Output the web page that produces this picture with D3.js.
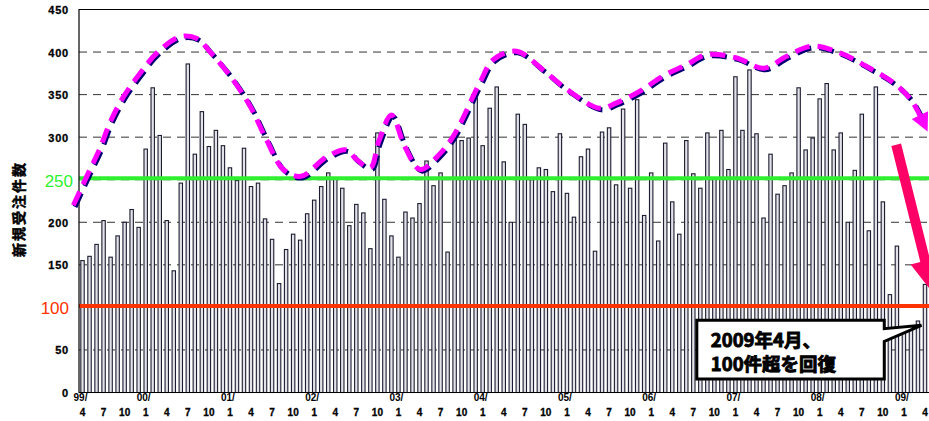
<!DOCTYPE html>
<html>
<head>
<meta charset="utf-8">
<script src="https://cdn.jsdelivr.net/npm/d3@7"></script>
<style>
  body { margin: 0; background: #fff; }
  svg { display: block; }
</style>
</head>
<body>
<div id="chart"></div>
<script>
// monthly new orders, 1999/04 .. 2009/04
const orders = [
  155, 160, 174, 202, 159, 184, 200, 215, 194,            // 99/4 - 99/12
  286, 358, 302, 202, 143, 246, 386, 280, 330, 289, 308, 290, // 00
  264, 249, 287, 242, 246, 204, 180, 128, 168, 186, 179, 210, // 01
  226, 242, 258, 252, 240, 196, 221, 211, 169, 305, 227, 184, // 02
  159, 212, 205, 222, 272, 243, 258, 165, 297, 296, 299, 346, // 03
  290, 334, 359, 271, 200, 327, 315, 250, 264, 262, 236, 304, // 04
  234, 206, 277, 286, 166, 306, 311, 244, 333, 240, 344, 208, // 05
  258, 178, 293, 224, 186, 296, 257, 240, 305, 252, 308, 262, // 06
  371, 308, 379, 304, 205, 280, 233, 243, 258, 358, 285, 299, // 07
  345, 363, 285, 305, 200, 261, 327, 190, 359, 224, 115, 172, // 08
  70, 76, 84, 127                                          // 09/1 - 09/4
];
const startYear = 1999, startMonth = 4;
const yearLabels = ["99/", "00/", "01/", "02/", "03/", "04/", "05/", "06/", "07/", "08/", "09/"];
const yTicks = [0, 50, 100, 150, 200, 250, 300, 350, 400, 450];
const yTitle = "新規受注件数";
const thresholds = [
  { value: 250, color: "#2ef02e" },
  { value: 100, color: "#ff3300" }
];
// hand drawn trend curve: [month index, value]
const trend = [
  [-1.3, 220], [1.07, 262], [2.5, 287], [3.9, 317], [5.8, 347], [8.2, 375], [10.6, 399],
  [13.9, 418], [16.3, 416], [18.2, 400], [21.2, 370], [23.9, 336], [26.2, 297], [28.6, 262],
  [31.1, 254], [34.8, 277], [37.6, 285], [39, 274], [41, 264], [42.2, 295], [44, 326],
  [45.9, 289], [48.1, 262], [50.5, 277], [52.8, 301], [56.6, 364], [58.5, 391], [61.8, 401],
  [65.6, 379], [69, 356], [73.7, 334], [76, 340], [79.4, 354], [82.7, 372], [86, 385],
  [88.9, 397], [93.2, 393], [97, 381], [100.3, 395], [103.9, 407], [107.9, 399], [111.7, 383],
  [115.5, 364], [118, 344], [119.5, 322]
];
const dropArrow = { from: [115.9, 291], to: [121.2, 116] };
const callout = { left: 87.5, right: 114.2, top: 85, bottom: 16, tip: [119.5, 79], notch: [75, 60] };
const calloutText = ["2009年4月、", "100件超を回復"];

// categories
const months = orders.map((v, i) => {
  const m = (startMonth - 1 + i) % 12 + 1;
  const yr = startYear + Math.floor((startMonth - 1 + i) / 12);
  return { i, year: yr, month: m, value: v };
});

const width = 929, height = 421;
const svg = d3.select("#chart").append("svg")
  .attr("width", width)
  .attr("height", height);

const plotLeft = 79, plotRight = 928.5, plotTop = 9.5, plotBottom = 392.5;

const x = d3.scaleBand().domain(months.map(d => d.i)).range([plotLeft, plotRight]).padding(0);
const xl = d3.scaleLinear().domain([-0.5, orders.length - 0.5]).range([plotLeft, plotRight]);
const y = d3.scaleLinear().domain([0, 450]).range([plotBottom, plotTop]);

// dashed grid
svg.append("g")
  .selectAll("line")
  .data(yTicks.filter(v => v > 0 && v < 450))
  .enter().append("line")
  .attr("x1", plotLeft).attr("x2", width)
  .attr("y1", d => y(d)).attr("y2", d => y(d))
  .attr("stroke", "#333")
  .attr("stroke-width", 1)
  .attr("stroke-dasharray", "8,6");

// bars
const barW = 3.4;
svg.append("g")
  .selectAll("rect")
  .data(months)
  .enter().append("rect")
  .attr("x", d => x(d.i) + (x.bandwidth() - barW) / 2)
  .attr("y", d => y(d.value))
  .attr("width", barW)
  .attr("height", d => y(0) - y(d.value))
  .attr("fill", "#e2e2e8")
  .attr("stroke", "#1c1c30")
  .attr("stroke-width", 1.1);

// threshold lines
svg.append("g")
  .selectAll("line")
  .data(thresholds)
  .enter().append("line")
  .attr("x1", plotLeft).attr("x2", width)
  .attr("y1", d => y(d.value) - 1.5).attr("y2", d => y(d.value) - 1.5)
  .attr("stroke", d => d.color)
  .attr("stroke-width", 4);

// frame
svg.append("path")
  .attr("d", `M${width},${plotTop}H${plotLeft}V${plotBottom}H${width}`)
  .attr("fill", "none")
  .attr("stroke", "#000")
  .attr("stroke-width", 1.2);

// y axis labels
const yAxis = svg.append("g")
  .attr("transform", `translate(${plotLeft - 10},0)`)
  .call(d3.axisLeft(y).tickValues(yTicks).tickSize(0).tickPadding(0));
yAxis.select(".domain").remove();
yAxis.selectAll("text")
  .attr("dy", "0.36em")
  .style("font-family", "'Liberation Sans', Arial, sans-serif")
  .style("font-size", "11px")
  .style("font-weight", "bold")
  .style("letter-spacing", "0.8px")
  .attr("stroke", "#000")
  .attr("stroke-width", 0.3)
  .attr("fill", "#000");
thresholds.forEach(t => {
  yAxis.selectAll(".tick").filter(d => d === t.value).select("text")
    .attr("x", t.value === 250 ? 4 : 0)
    .attr("dy", "0.38em")
    .style("font-size", "17px")
    .style("font-weight", "normal")
    .style("letter-spacing", "0px")
    .attr("stroke", "none")
    .attr("fill", t.color);
});

// y title
svg.append("text")
  .attr("transform", `translate(18,${(plotTop + plotBottom) / 2 + 8}) rotate(-90)`)
  .attr("text-anchor", "middle")
  .attr("dominant-baseline", "central")
  .style("font-family", "'Noto Sans CJK JP', sans-serif")
  .style("font-size", "14px")
  .style("font-weight", "bold")
  .style("letter-spacing", "2px")
  .attr("stroke", "#000")
  .attr("stroke-width", 0.5)
  .text(yTitle);

// x axis: month row
const xMonth = svg.append("g")
  .attr("transform", `translate(0,${plotBottom})`)
  .call(d3.axisBottom(x)
    .tickValues(months.filter(d => d.i % 3 === 0).map(d => d.i))
    .tickFormat(i => String(months[i].month))
    .tickSize(0));
xMonth.select(".domain").remove();
xMonth.selectAll("text")
  .attr("y", 23.5).attr("dy", 0)
  .style("font-family", "'Liberation Sans', Arial, sans-serif")
  .style("font-size", "10px")
  .style("font-weight", "bold")
  .attr("stroke", "#000")
  .attr("stroke-width", 0.3)
  .attr("fill", "#000");

// x axis: year row
const xYear = svg.append("g")
  .attr("transform", `translate(-2,${plotBottom})`)
  .call(d3.axisBottom(x)
    .tickValues(months.filter(d => d.month === 1 || d.i === 0).map(d => d.i))
    .tickFormat(i => yearLabels[months[i].year - startYear])
    .tickSize(0));
xYear.select(".domain").remove();
xYear.selectAll("text")
  .attr("y", 8.5).attr("dy", 0)
  .style("font-family", "'Liberation Sans', Arial, sans-serif")
  .style("font-size", "10px")
  .style("font-weight", "bold")
  .attr("fill", "#000");

// trend curve
const line = d3.line()
  .x(d => xl(d[0]))
  .y(d => y(d[1]))
  .curve(d3.curveCatmullRom.alpha(0.5));

const defs = svg.append("defs");
defs.append("marker")
  .attr("id", "head")
  .attr("viewBox", "0 0 10 10")
  .attr("refX", 2).attr("refY", 5)
  .attr("markerUnits", "userSpaceOnUse")
  .attr("markerWidth", 20).attr("markerHeight", 18)
  .attr("orient", "auto")
  .append("path")
  .attr("d", "M0,0L10,5L0,10Z")
  .attr("fill", "#ff00ff");

svg.append("path")
  .datum(trend)
  .attr("d", line)
  .attr("transform", "translate(1.6,1.6)")
  .attr("fill", "none")
  .attr("stroke", "#000070")
  .attr("stroke-width", 5)
  .attr("stroke-dasharray", "15,8");
svg.append("path")
  .datum(trend)
  .attr("d", line)
  .attr("fill", "none")
  .attr("stroke", "#ff00ff")
  .attr("stroke-width", 5)
  .attr("stroke-dasharray", "15,8")
  .attr("marker-end", "url(#head)");

// pink drop arrow
{
  const p0 = [xl(dropArrow.from[0]), y(dropArrow.from[1])];
  const p1 = [xl(dropArrow.to[0]), y(dropArrow.to[1])];
  const dx = p1[0] - p0[0], dy = p1[1] - p0[1], len = Math.hypot(dx, dy);
  const ux = dx / len, uy = dy / len, px = -uy, py = ux;
  const sw = 5, hw = 15, hl = 34;
  const b = [p1[0] - ux * hl, p1[1] - uy * hl];
  const pts = [
    [p0[0] + px * sw, p0[1] + py * sw],
    [b[0] + px * sw, b[1] + py * sw],
    [b[0] + px * hw, b[1] + py * hw],
    p1,
    [b[0] - px * hw, b[1] - py * hw],
    [b[0] - px * sw, b[1] - py * sw],
    [p0[0] - px * sw, p0[1] - py * sw]
  ];
  svg.append("path")
    .attr("d", "M" + pts.map(p => p.join(",")).join("L") + "Z")
    .attr("fill", "#ff0066");
}

// callout
{
  const l = xl(callout.left), r = xl(callout.right);
  const t = y(callout.top), bt = y(callout.bottom);
  const tip = [xl(callout.tip[0]), y(callout.tip[1])];
  const n0 = y(callout.notch[0]), n1 = y(callout.notch[1]);
  svg.append("path")
    .attr("d", `M${l},${t}H${r}V${n0}L${tip[0]},${tip[1]}L${r},${n1}V${bt}H${l}Z`)
    .attr("fill", "#fff")
    .attr("stroke", "#000")
    .attr("stroke-width", 3)
    .attr("stroke-linejoin", "miter");
  svg.append("g")
    .selectAll("text")
    .data(calloutText)
    .enter().append("text")
    .attr("x", l + 14)
    .attr("y", (d, i) => t + 27 + i * 23.5)
    .style("font-family", "'Noto Sans CJK JP', sans-serif")
    .style("font-size", "18.5px")
    .style("font-weight", "bold")
    .attr("stroke", "#000")
    .attr("stroke-width", 0.9)
    .attr("fill", "#000")
    .text(d => d);
}
</script>
</body>
</html>
